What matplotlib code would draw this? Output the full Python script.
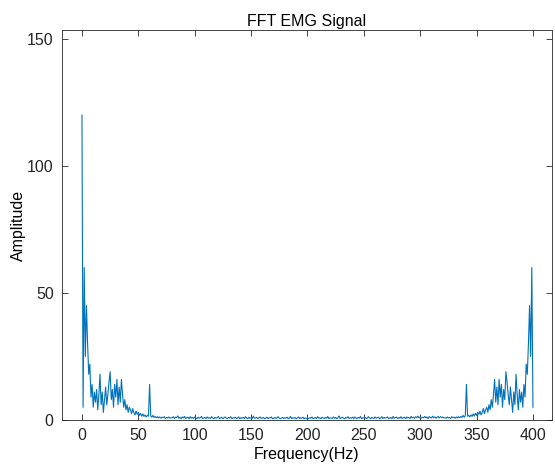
import numpy as np
import matplotlib
matplotlib.use('Agg')
import matplotlib.pyplot as plt

# amplitude, 1 Hz bins
amp_low = [  # 0 .. 200 Hz
    120, 5, 60, 25, 45, 30, 18, 22, 9, 14,
    5, 11, 7, 12, 4, 10, 18, 6, 11, 3,
    8, 13, 6, 10, 15, 19, 8, 12, 5, 14,
    9, 16, 6, 13, 7, 16, 10, 5, 8, 4,
    6, 3, 5, 4, 2.5, 4.5, 3, 2, 3.5, 2.2,
    3, 1.8, 2.6, 1.5, 2.4, 1.4, 2, 1.2, 1.8, 1.5,
    14, 1.6, 1.1, 1.8, 1, 1.4, 0.9, 1.3, 0.8, 1.2,
    0.7, 1.1, 0.9, 1.3, 0.6, 1, 0.8, 1.2, 0.7, 0.9,
    0.8, 1.3, 0.6, 1.1, 0.9, 1.6, 0.7, 1.0, 0.5, 1.2, 0.8, 1.4, 0.6, 0.9, 1.1, 0.5, 1.3, 0.7, 1.0, 0.6,
    1.2, 0.8, 0.5, 1.1, 0.7, 0.9, 1.4, 0.6, 0.8, 1.0, 0.5, 1.2, 0.7, 0.9, 0.6, 1.3, 0.8, 0.5, 1.0, 0.7,
    0.9, 1.4, 0.6, 0.8, 1.1, 0.5, 0.9, 1.2, 0.7, 0.6, 1.0, 0.8, 1.3, 0.5, 0.9, 0.7, 1.1, 0.6, 0.8, 1.2,
    0.5, 0.9, 0.7, 1.0, 0.6, 1.3, 0.8, 0.5, 1.1, 0.7, 0.9, 0.6, 1.5, 0.7, 0.8, 1.0, 0.5, 0.9, 1.2, 0.6,
    0.8, 1.0, 0.5, 0.7, 1.1, 0.6, 0.9, 0.8, 1.2, 0.5, 0.7, 1.0, 0.6, 0.9, 1.3, 0.7, 0.5, 0.8, 1.0, 0.6,
    0.9, 0.7, 1.1, 0.5, 0.8, 1.4, 0.6, 0.9, 0.7, 1.0, 0.5, 0.8, 1.2, 0.6, 0.9, 0.7, 1.1, 0.5, 0.8, 0.6,
    0.7,
]
amp_high = [  # 201 .. 400 Hz
    0.6, 0.9, 0.7, 1.2, 0.5, 0.8, 1.0, 0.6, 1.3, 0.7, 0.9, 0.5, 1.1, 0.8, 0.6, 1.0, 0.7, 1.4, 0.5, 0.9,
    0.8, 0.6, 1.2, 0.7, 1.0, 0.5, 0.9, 1.6, 0.6, 0.8, 1.1, 0.7, 0.5, 1.0, 0.8, 1.3, 0.6, 0.9, 0.7, 1.1,
    0.5, 1.2, 0.8, 0.6, 1.0, 0.7, 1.4, 0.5, 0.9, 0.8, 1.1, 0.6, 0.7, 1.3, 0.9, 0.5, 1.0, 0.8, 0.6, 1.2,
    0.7, 0.9, 1.1, 0.5, 0.8, 1.3, 0.6, 1.0, 0.7, 0.9, 1.2, 0.6, 0.8, 1.0, 0.5, 1.4, 0.7, 0.9, 1.1, 0.6,
    1.0, 0.7, 1.3, 0.6, 0.9, 1.1, 0.5, 1.2, 0.8, 1.0, 0.6, 1.4, 0.8, 1.1, 0.7, 1.3, 0.9, 1.5, 0.8, 1.2,
    0.7, 1.1, 0.9, 1.4, 0.8, 1.2, 0.6, 1.3, 1.0, 0.8, 1.5, 0.9, 1.2, 0.7, 1.1, 1.4, 0.8, 1.3, 1.0, 1.2,
    0.8,
    0.9, 0.7, 1.2, 0.8, 1, 0.6, 1.3, 0.9, 1.1, 0.7,
    1.2, 0.8, 1.3, 0.9, 1.4, 1, 1.8, 1.1, 1.6, 14,
    1.5, 1.8, 1.2, 2, 1.4, 2.4, 1.5, 2.6, 1.8, 3,
    2.2, 3.5, 2, 3, 4.5, 2.5, 4, 5, 3, 6,
    4, 8, 5, 10, 16, 7, 13, 6, 16, 9,
    14, 5, 12, 8, 19, 15, 10, 6, 13, 8,
    3, 11, 6, 18, 10, 4, 12, 7, 11, 5,
    14, 9, 22, 18, 30, 45, 25, 60, 5,
]

x_ticks = [0, 50, 100, 150, 200, 250, 300, 350, 400]
y_ticks = [0, 50, 100, 150]

amp = np.array(amp_low + amp_high)
freq = np.arange(len(amp))

plt.rcParams['font.family'] = ['Liberation Sans', 'DejaVu Sans']
fig = plt.figure(figsize=(5.55, 4.70), dpi=100)
ax = fig.add_axes([0.1117, 0.1064, 0.8829, 0.8298])
ax.plot(freq, amp, color='#0072BD', lw=0.8)

ax.set_xlim(-17.7, 416.9)
ax.set_ylim(0, 153.5)
ax.set_xticks(x_ticks)
ax.set_yticks(y_ticks)
ax.tick_params(direction='in', top=True, right=True, length=4, width=0.6,
               labelsize=11.5, colors='#262626', pad=6)
for s in ax.spines.values():
    s.set_color('#262626')
    s.set_linewidth(0.6)

ax.set_title('FFT EMG Signal', fontsize=11.5, pad=3)
ax.set_xlabel('Frequency(Hz)', fontsize=11.5, labelpad=3)
ax.set_ylabel('Amplitude', fontsize=11.5, labelpad=1)

fig.savefig('out.png', dpi=100)
